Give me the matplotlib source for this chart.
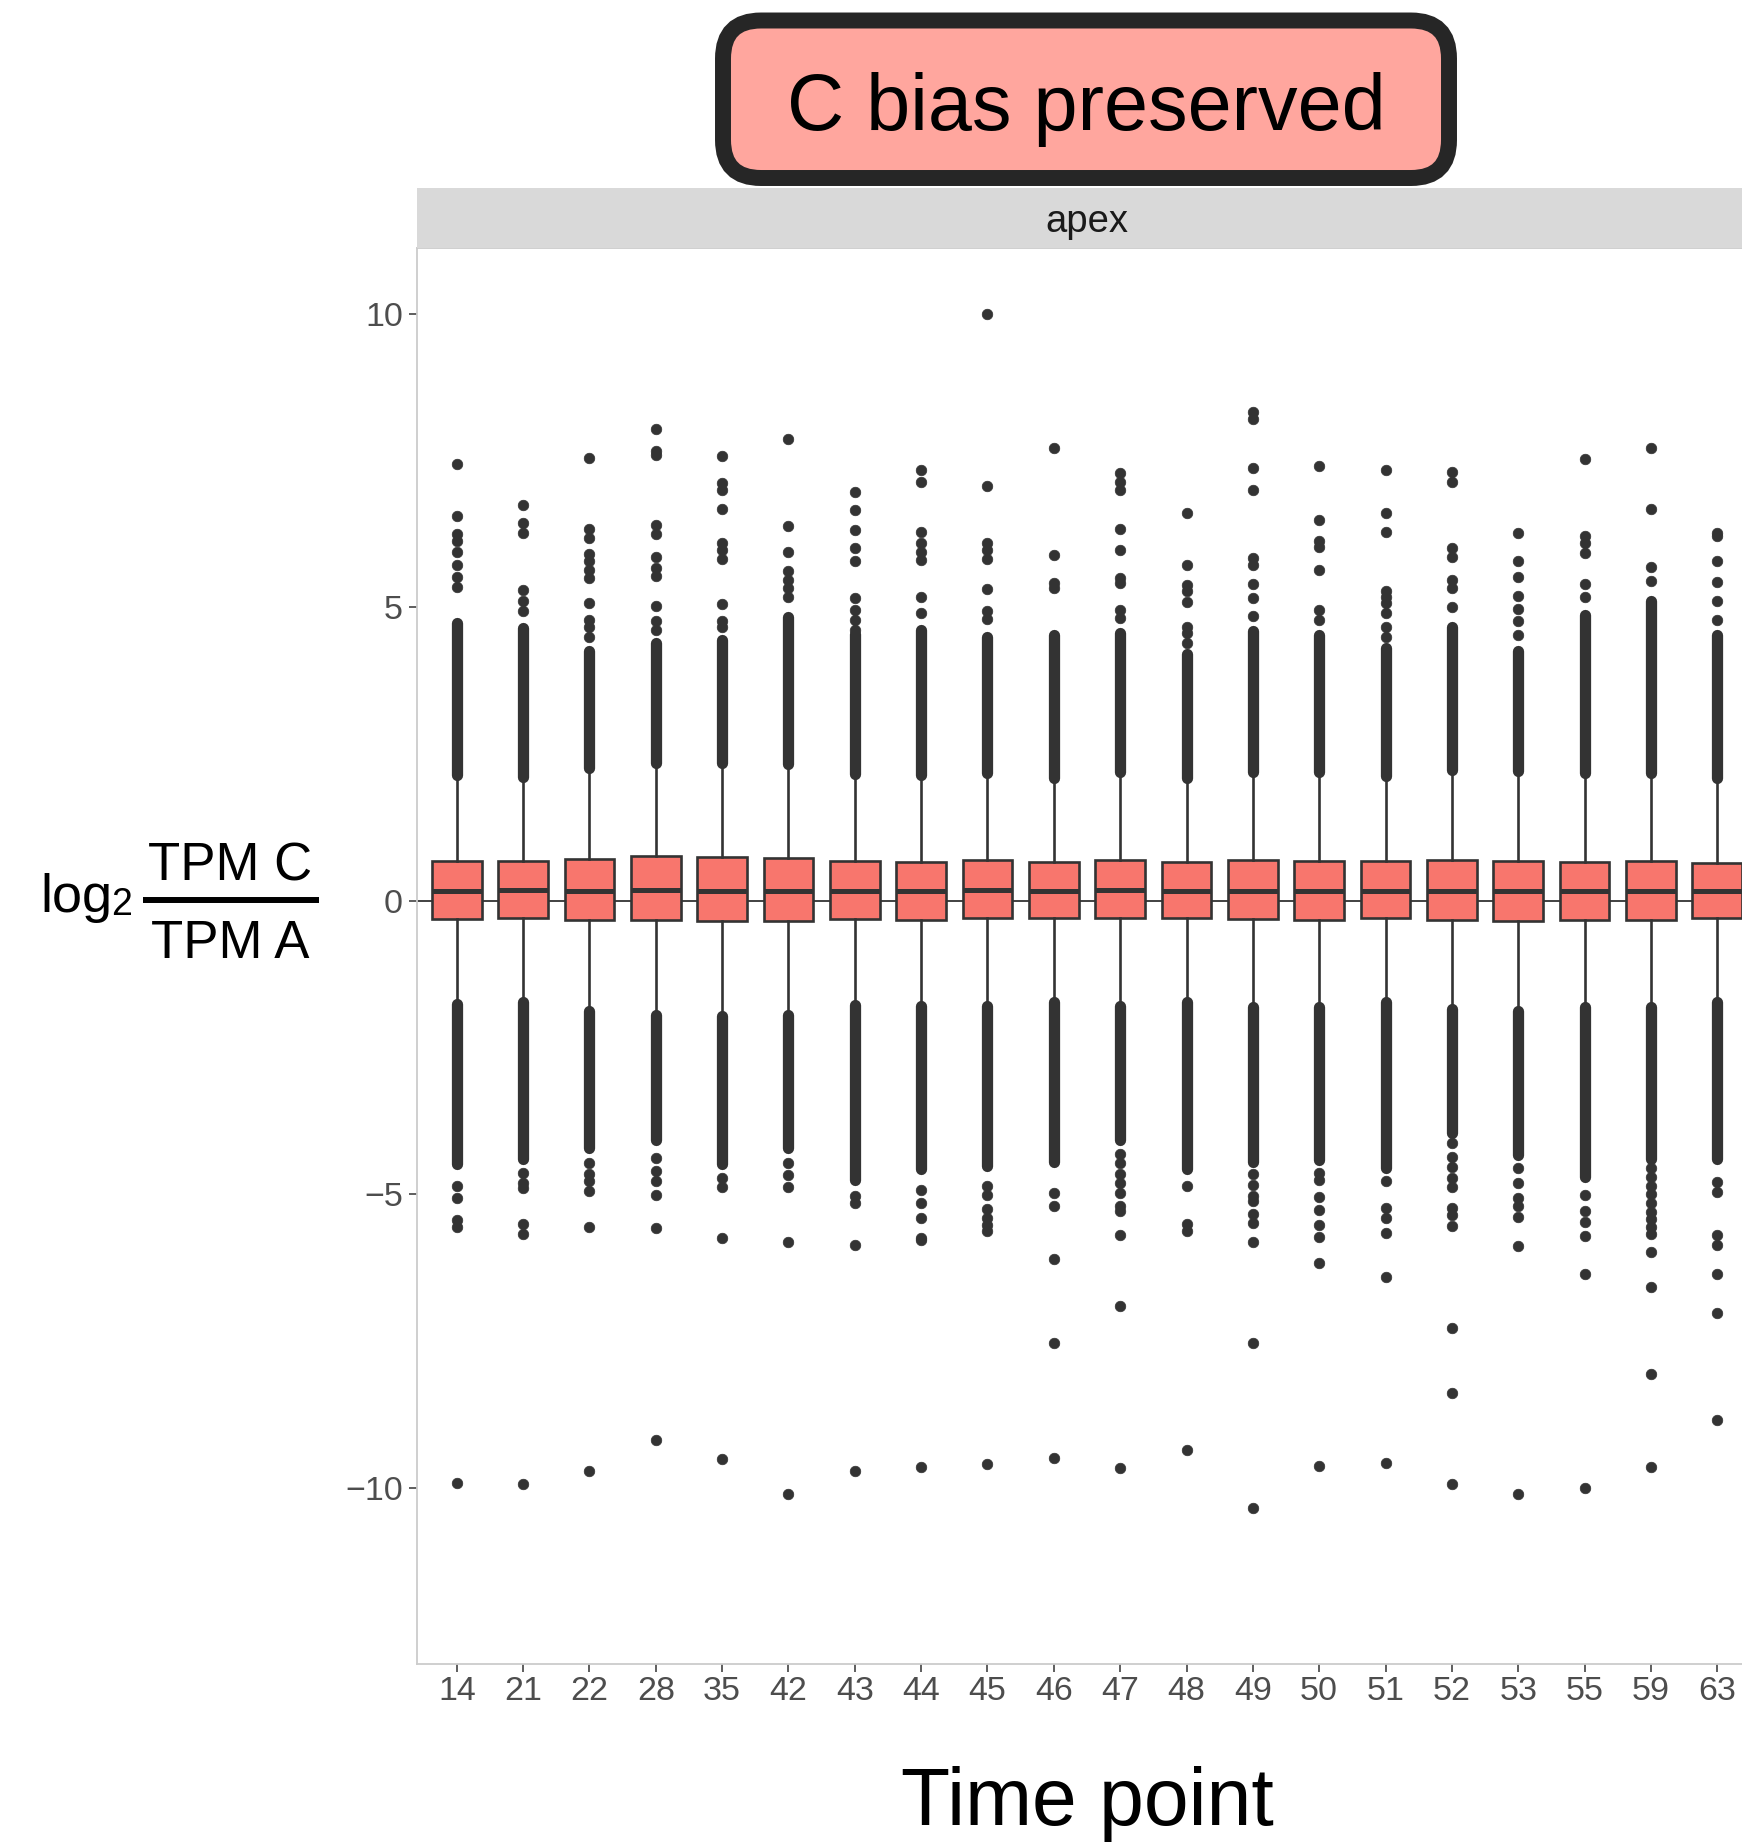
import numpy as np
import matplotlib
matplotlib.use('Agg')
import matplotlib.pyplot as plt
from matplotlib.patches import FancyBboxPatch

plt.rcParams['font.family'] = ['Liberation Sans', 'DejaVu Sans']

# time points (x categories)
time_points = ['14', '21', '22', '28', '35', '42', '43', '44', '45', '46',
               '47', '48', '49', '50', '51', '52', '53', '55', '59', '63']

# box statistics of log2(TPM C / TPM A)
q1 = [-0.31, -0.29, -0.33, -0.33, -0.35, -0.34, -0.31, -0.32, -0.29, -0.29,
      -0.30, -0.30, -0.31, -0.32, -0.29, -0.33, -0.34, -0.33, -0.32, -0.30]
med = [0.17, 0.18, 0.17, 0.19, 0.17, 0.17, 0.17, 0.16, 0.19, 0.17,
       0.18, 0.16, 0.17, 0.17, 0.17, 0.17, 0.16, 0.17, 0.17, 0.16]
q3 = [0.68, 0.67, 0.72, 0.76, 0.74, 0.73, 0.68, 0.66, 0.70, 0.66,
      0.69, 0.66, 0.69, 0.68, 0.67, 0.70, 0.68, 0.66, 0.67, 0.64]
whis_hi = [2.10, 2.06, 2.21, 2.30, 2.30, 2.28, 2.11, 2.10, 2.13, 2.04,
           2.15, 2.04, 2.14, 2.14, 2.07, 2.18, 2.16, 2.12, 2.12, 2.04]
whis_lo = [-1.71, -1.67, -1.83, -1.89, -1.92, -1.89, -1.72, -1.74, -1.74, -1.67,
           -1.74, -1.68, -1.76, -1.76, -1.68, -1.79, -1.82, -1.76, -1.76, -1.68]

# ranges where outliers overlap into a solid run
run_hi_start = [2.15, 2.11, 2.26, 2.35, 2.35, 2.33, 2.16, 2.15, 2.18, 2.09,
                2.20, 2.09, 2.19, 2.19, 2.12, 2.23, 2.21, 2.17, 2.17, 2.09]
run_hi_end = [4.74, 4.65, 4.25, 4.39, 4.45, 4.84, 4.55, 4.62, 4.50, 4.53,
              4.56, 4.20, 4.59, 4.53, 4.30, 4.67, 4.25, 4.87, 5.10, 4.53]
run_lo_start = [-1.76, -1.72, -1.88, -1.94, -1.97, -1.94, -1.77, -1.79, -1.79, -1.72,
                -1.79, -1.73, -1.81, -1.81, -1.73, -1.84, -1.87, -1.81, -1.81, -1.73]
run_lo_end = [-4.48, -4.40, -4.21, -4.08, -4.48, -4.21, -4.75, -4.57, -4.51, -4.45,
              -4.08, -4.57, -4.45, -4.42, -4.55, -3.96, -4.33, -4.70, -4.40, -4.40]

# separate outliers above the solid runs
out_hi = [
    [5.34, 5.51, 5.72, 5.94, 6.13, 6.25, 6.55, 7.44],
    [4.94, 5.11, 5.29, 6.26, 6.44, 6.75],
    [4.50, 4.66, 4.79, 5.08, 5.50, 5.64, 5.78, 5.91, 6.18, 6.33, 7.55],
    [4.62, 4.76, 5.03, 5.54, 5.67, 5.86, 6.24, 6.40, 7.60, 7.67, 8.04],
    [4.67, 4.77, 5.06, 5.83, 5.97, 6.09, 6.68, 6.99, 7.12, 7.57],
    [5.18, 5.33, 5.47, 5.61, 5.95, 6.39, 7.86],
    [4.62, 4.79, 4.96, 5.16, 5.78, 6.01, 6.32, 6.66, 6.96],
    [4.90, 5.18, 5.81, 5.95, 6.09, 6.29, 7.14, 7.33],
    [4.80, 4.93, 5.31, 5.83, 5.97, 6.09, 7.06, 10.0],
    [5.33, 5.42, 5.89, 7.71],
    [4.82, 4.96, 5.41, 5.50, 5.98, 6.34, 6.99, 7.14, 7.29],
    [4.40, 4.56, 4.67, 5.09, 5.27, 5.38, 5.72, 6.60],
    [4.86, 5.15, 5.40, 5.72, 5.84, 7.00, 7.37, 8.21, 8.33],
    [4.79, 4.96, 5.64, 6.02, 6.13, 6.49, 7.41],
    [4.50, 4.67, 4.90, 5.07, 5.18, 5.27, 6.29, 6.60, 7.33],
    [5.01, 5.33, 5.47, 5.86, 6.01, 7.14, 7.30],
    [4.53, 4.77, 4.97, 5.20, 5.52, 5.78, 6.26],
    [5.18, 5.40, 5.92, 6.10, 6.22, 7.53],
    [5.44, 5.69, 6.68, 7.71],
    [4.79, 5.10, 5.43, 5.78, 6.21, 6.27],
]
# separate outliers below the solid runs
out_lo = [
    [-4.85, -5.07, -5.43, -5.56, -9.92],
    [-4.63, -4.80, -4.90, -5.51, -5.68, -9.94],
    [-4.47, -4.66, -4.78, -4.95, -5.56, -9.71],
    [-4.38, -4.61, -4.78, -5.01, -5.58, -9.18],
    [-4.73, -4.88, -5.75, -9.51],
    [-4.47, -4.67, -4.88, -5.81, -10.10],
    [-5.02, -5.14, -5.87, -9.71],
    [-4.92, -5.14, -5.40, -5.74, -5.78, -9.64],
    [-4.85, -5.01, -5.25, -5.40, -5.52, -5.62, -9.60],
    [-4.97, -5.20, -6.10, -7.54, -9.49],
    [-4.32, -4.47, -4.66, -4.81, -4.97, -5.20, -5.29, -5.69, -6.91, -9.66],
    [-4.86, -5.51, -5.62, -9.36],
    [-4.66, -4.84, -5.02, -5.11, -5.34, -5.48, -5.81, -7.54, -10.34],
    [-4.63, -4.75, -5.05, -5.26, -5.52, -5.72, -6.17, -9.62],
    [-4.78, -5.23, -5.40, -5.65, -6.41, -9.58],
    [-4.13, -4.36, -4.54, -4.72, -4.87, -5.23, -5.36, -5.54, -7.27, -8.38, -9.93],
    [-4.55, -4.81, -5.06, -5.20, -5.39, -5.88, -10.11],
    [-5.01, -5.29, -5.47, -5.71, -6.36, -10.0],
    [-4.55, -4.70, -4.85, -5.00, -5.15, -5.30, -5.42, -5.55, -5.68, -5.98, -6.58, -8.06, -9.64],
    [-4.79, -4.96, -5.69, -5.87, -6.35, -7.02, -8.85],
]

W, H = 1742, 1842
DARK = '#333333'


def fig_box(x0, y0, x1, y1):
    """pixel box (y from top) -> figure fraction rect"""
    return [x0 / W, 1 - y1 / H, (x1 - x0) / W, (y1 - y0) / H]


fig = plt.figure(figsize=(W / 100, H / 100), dpi=100)

# main panel (runs past the right edge of the figure)
ax = fig.add_axes(fig_box(417, 248, 1757, 1664))
pos = np.arange(1, len(time_points) + 1)

ax.axhline(0, color=DARK, lw=1.3, zorder=1)

stats = []
for i, tp in enumerate(time_points):
    stats.append(dict(label=tp, q1=q1[i], med=med[i], q3=q3[i],
                      whislo=whis_lo[i], whishi=whis_hi[i],
                      fliers=out_hi[i] + out_lo[i]))

ax.bxp(stats, positions=pos, widths=0.75, patch_artist=True, showcaps=False,
       boxprops=dict(facecolor='#F8766D', edgecolor=DARK, linewidth=1.9),
       medianprops=dict(color=DARK, linewidth=3.6, solid_capstyle='butt'),
       whiskerprops=dict(color=DARK, linewidth=1.9),
       flierprops=dict(marker='o', markerfacecolor=DARK, markeredgecolor=DARK,
                       markersize=7.6, markeredgewidth=0.5),
       zorder=2)

# overlapping outlier runs
runs = ax.vlines(np.concatenate([pos, pos]), run_hi_start + run_lo_start,
                 run_hi_end + run_lo_end, colors=DARK, linewidth=8.1, zorder=3)
runs.set_capstyle('round')

ax.set_xlim(0.4, 20.6)
ax.set_ylim(-13.0, 11.12)
ax.set_xticks(pos)
ax.set_xticklabels(time_points)
ax.set_yticks([-10, -5, 0, 5, 10])
ax.set_yticklabels(['\u221210', '\u22125', '0', '5', '10'])
ax.tick_params(axis='both', length=5.8, width=1.1, color=DARK,
               labelsize=24.5, labelcolor='#4D4D4D')
ax.tick_params(axis='y', pad=4.3)
ax.tick_params(axis='x', pad=2.6)
for side in ax.spines.values():
    side.set_color('#CCCCCC')
    side.set_linewidth(1.3)

# facet strip
strip = fig.add_axes(fig_box(417, 188, 1757, 248))
strip.set_facecolor('#D9D9D9')
strip.set_xticks([])
strip.set_yticks([])
for side in strip.spines.values():
    side.set_visible(False)
strip.text(0.5, 0.27, 'apex', ha='center', va='baseline', fontsize=27.5,
           color='#1A1A1A', transform=strip.transAxes)

# overlay in pixel units for title and axis titles
over = fig.add_axes([0, 0, 1, 1], facecolor='none')
over.set_xlim(0, W)
over.set_ylim(H, 0)
over.axis('off')

title_box = FancyBboxPatch((723, 20.5), 726, 157.5,
                           boxstyle='round,pad=0,rounding_size=38',
                           facecolor='#FFA69E', edgecolor='#262626', linewidth=11.5)
over.add_patch(title_box)
over.text(1086, 130, 'C bias preserved', ha='center', va='baseline',
          fontsize=57, color='black')

over.text(1087, 1825, 'Time point', ha='center', va='baseline',
          fontsize=58, color='black')

# y-axis title: log2 (TPM C / TPM A)
over.text(40, 911.7, 'log', ha='left', va='baseline', fontsize=39, color='black')
over.text(111, 915, '2', ha='left', va='baseline', fontsize=27, color='black')
over.plot([143, 319], [900, 900], color='black', lw=4.3, solid_capstyle='butt')
over.text(230, 880, 'TPM C', ha='center', va='baseline', fontsize=38, color='black')
over.text(230, 958, 'TPM A', ha='center', va='baseline', fontsize=38, color='black')

plt.savefig('out.png', dpi=100)
